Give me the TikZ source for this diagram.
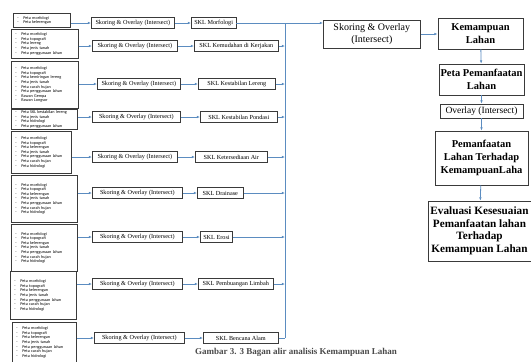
\documentclass[tikz,border=0pt]{standalone}
\usepackage{fontspec}
\setmainfont{Liberation Serif}
\newfontfamily\carlito{Carlito}
\usetikzlibrary{arrows.meta, positioning}
\definecolor{cline}{HTML}{5B8CC0}
\definecolor{cbox}{HTML}{3A3A3A}
\definecolor{ccap}{HTML}{4A4A4A}
\newcommand{\butir}{\makebox[6pt][l]{-}}
\tikzset{
  every picture/.style={line width=0.6pt},
  listbox/.style={draw=cbox, anchor=north west, align=left, minimum width=#1, text width=#1-8pt, inner xsep=4pt, inner ysep=1.5pt, font=\carlito\fontsize{4.2}{4.6}\selectfont},
  skor/.style={draw=cbox, anchor=west, minimum width=87pt, minimum height=11pt, inner xsep=3pt, inner ysep=0pt, font=\fontsize{6.2}{7}\selectfont},
  skl/.style={draw=cbox, anchor=west, minimum height=11pt, inner xsep=3pt, inner ysep=0pt, font=\fontsize{6.2}{7}\selectfont},
  gabung/.style={draw=cbox, anchor=west, align=center, minimum width=97pt, minimum height=28pt, font=\fontsize{10}{12}\selectfont},
  hasil/.style={draw=cbox, line width=0.9pt, align=center, inner sep=1.5pt, font=\bfseries\fontsize{10.5}{13}\selectfont},
  arrow/.style={-{Latex[length=3.2pt, width=2.6pt]}, draw=cline, line width=0.8pt},
  link/.style={draw=cline, line width=0.8pt},
  caption/.style={font=\bfseries\fontsize{9}{10}\selectfont, text=ccap},
}

\begin{document}
\begin{tikzpicture}[x=1pt, y=-1pt]
  \useasboundingbox (0,0) rectangle (531,362);
  \clip (0,0) rectangle (531,362);

  % peta masukan
  \node[listbox=57pt, minimum height=14pt] (lp1) at (13,13) {\butir Peta morfologi\\\butir Peta kelerengan};
  \node[listbox=67pt, minimum height=29pt] (lp2) at (11,29) {\butir Peta morfologi\\\butir Peta topografi\\\butir Peta lereng\\\butir Peta jenis tanah\\\butir Peta penggunaan lahan};
  \node[listbox=67pt, minimum height=47pt] (lp3) at (11,61) {\butir Peta morfologi\\\butir Peta topografi\\\butir Peta kemiringan lereng\\\butir Peta jenis tanah\\\butir Peta curah hujan\\\butir Peta penggunaan lahan\\\butir Rawan Gempa\\\butir Rawan Longsor};
  \node[listbox=66pt, minimum height=20pt] (lp4) at (11,109) {\butir Peta SKL kestabilan lereng\\\butir Peta jenis tanah\\\butir Peta hidrologi\\\butir Peta penggunaan lahan};
  \node[listbox=60pt, minimum height=42pt] (lp5) at (11,131) {\butir Peta morfologi\\\butir Peta topografi\\\butir Peta kelerengan\\\butir Peta jenis tanah\\\butir Peta penggunaan lahan\\\butir Peta curah hujan\\\butir Peta hidrologi};
  \node[listbox=66pt, minimum height=47pt] (lp6) at (11,175) {\butir Peta morfologi\\\butir Peta topografi\\\butir Peta kelerengan\\\butir Peta jenis tanah\\\butir Peta penggunaan lahan\\\butir Peta curah hujan\\\butir Peta hidrologi};
  \node[listbox=66pt, minimum height=47pt] (lp7) at (11,224) {\butir Peta morfologi\\\butir Peta topografi\\\butir Peta kelerengan\\\butir Peta jenis tanah\\\butir Peta penggunaan lahan\\\butir Peta curah hujan\\\butir Peta hidrologi};
  \node[listbox=66pt, minimum height=48pt] (lp8) at (10,271) {\butir Peta morfologi\\\butir Peta topografi\\\butir Peta kelerengan\\\butir Peta jenis tanah\\\butir Peta penggunaan lahan\\\butir Peta curah hujan\\\butir Peta hidrologi};
  \node[listbox=64pt, minimum height=44pt] (lp9) at (12,322) {\butir Peta morfologi\\\butir Peta topografi\\\butir Peta kelerengan\\\butir Peta jenis tanah\\\butir Peta penggunaan lahan\\\butir Peta curah hujan\\\butir Peta hidrologi\\\mbox{}};

  % skoring tiap SKL
  \node[skor, minimum width=83pt] (sk1) at (91,23) {Skoring \& Overlay (Intersect)};
  \node[skor, minimum width=85pt] (sk2) at (92,46) {Skoring \& Overlay (Intersect)};
  \node[skor, minimum width=83pt] (sk3) at (97,84) {Skoring \& Overlay (Intersect)};
  \node[skor, minimum width=88pt] (sk4) at (92,117) {Skoring \& Overlay (Intersect)};
  \node[skor, minimum width=85pt] (sk5) at (92,157) {Skoring \& Overlay (Intersect)};
  \node[skor, minimum width=90pt] (sk6) at (92,193) {Skoring \& Overlay (Intersect)};
  \node[skor, minimum width=90pt] (sk7) at (92,237) {Skoring \& Overlay (Intersect)};
  \node[skor, minimum width=90pt] (sk8) at (92,284) {Skoring \& Overlay (Intersect)};
  \node[skor, minimum width=90pt] (sk9) at (94,338) {Skoring \& Overlay (Intersect)};

  \node[skl] (skl1) at (191,23) {SKL Morfologi};
  \node[skl, minimum width=84pt] (skl2) at (194,46) {SKL Kemudahan di Kerjakan};
  \node[skl, minimum width=77pt] (skl3) at (198,84) {SKL Kestabilan Lereng};
  \node[skl, minimum width=77pt] (skl4) at (200,117) {SKL Kestabilan Pondasi};
  \node[skl, minimum width=72pt] (skl5) at (195,157) {SKL Ketersediaan Air};
  \node[skl, minimum width=46pt] (skl6) at (197,193) {SKL Drainase};
  \node[skl] (skl7) at (200,237) {SKL Erosi};
  \node[skl, minimum width=75pt] (skl8) at (198,284) {SKL Pembuangan Limbah};
  \node[skl, minimum width=75pt] (skl9) at (203,338) {SKL Bencana Alam};

  % kolom kanan
  \node[gabung] (gab) at (323,34) {Skoring \& Overlay\\(Intersect)};
  \node[hasil, minimum width=85pt, minimum height=31pt] (kl) at (480.5,33.5) {Kemampuan\\Lahan};
  \node[hasil, minimum width=83pt, minimum height=31pt] (peta) at (481.5,79.5) {Peta Pemanfaatan\\Lahan};
  \node[hasil, minimum width=83pt, minimum height=14pt, font=\fontsize{9.5}{11}\selectfont] (ovl) at (481.5,111) {Overlay (Intersect)};
  \node[hasil, minimum width=93pt, minimum height=54pt] (pmf) at (481.5,158) {Pemanfaatan\\Lahan Terhadap\\KemampuanLaha};
  \node[hasil, minimum width=103pt, minimum height=60pt, font=\bfseries\fontsize{11.2}{12.5}\selectfont] (eval) at (479.5,231) {Evaluasi Kesesuaian\\Pemanfaatan lahan\\Terhadap\\Kemampuan Lahan};

  \node[caption] (cap) at (296,352) {Gambar 3. 3 Bagan alir analisis Kemampuan Lahan};

  \coordinate (bustop) at (285,23);
  \coordinate (busbot) at (285,338);

  \draw[arrow] (sk1.west -| lp1.east) -- (sk1.west); \draw[arrow] (sk2.west -| lp2.east) -- (sk2.west);
  \draw[arrow] (sk3.west -| lp3.east) -- (sk3.west); \draw[arrow] (sk4.west -| lp4.east) -- (sk4.west);
  \draw[arrow] (sk5.west -| lp5.east) -- (sk5.west); \draw[arrow] (sk6.west -| lp6.east) -- (sk6.west);
  \draw[arrow] (sk7.west -| lp7.east) -- (sk7.west); \draw[arrow] (sk8.west -| lp8.east) -- (sk8.west);
  \draw[arrow] (sk9.west -| lp9.east) -- (sk9.west);

  \draw[arrow] (sk1) -- (skl1); \draw[arrow] (sk2) -- (skl2); \draw[arrow] (sk3) -- (skl3);
  \draw[arrow] (sk4) -- (skl4); \draw[arrow] (sk5) -- (skl5); \draw[arrow] (sk6) -- (skl6);
  \draw[arrow] (sk7) -- (skl7); \draw[arrow] (sk8) -- (skl8); \draw[arrow] (sk9) -- (skl9);

  \draw[link] (bustop) -- (busbot);
  \draw[arrow] (skl1.east) -- (skl1.east -| gab.west);
  \draw[arrow] (skl2.east) -- (skl2.east -| bustop); \draw[arrow] (skl3.east) -- (skl3.east -| bustop);
  \draw[arrow] (skl4.east) -- (skl4.east -| bustop); \draw[arrow] (skl5.east) -- (skl5.east -| bustop);
  \draw[arrow] (skl6.east) -- (skl6.east -| bustop); \draw[arrow] (skl7.east) -- (skl7.east -| bustop);
  \draw[arrow] (skl8.east) -- (skl8.east -| bustop);
  \draw[link] (skl9.east) -- (skl9.east -| busbot);

  \draw[arrow] (gab.east) -- (gab.east -| kl.west);
  \draw[arrow] (kl) -- (peta); \draw[arrow] (peta) -- (ovl);
  \draw[arrow] (ovl) -- (pmf); \draw[arrow] (pmf) -- (eval);
\end{tikzpicture}
\end{document}
